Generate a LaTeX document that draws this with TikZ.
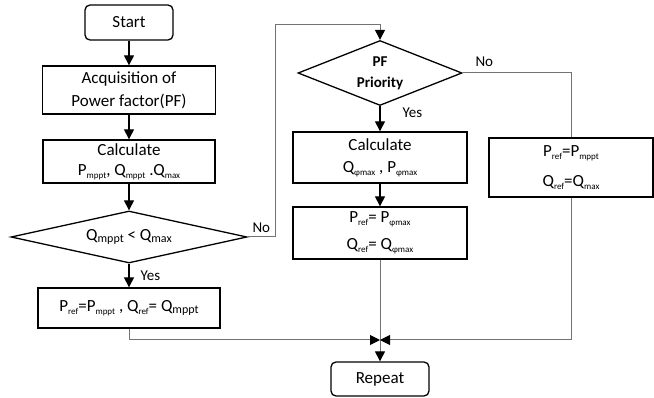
\documentclass[tikz,border=0pt]{standalone}
\usepackage{fontspec}
\setmainfont{Carlito}
\usetikzlibrary{shapes.geometric,arrows.meta}
\newcommand\lo[1]{\raisebox{-.35ex}{\fontsize{9}{9}\selectfont #1}}
\newcommand\lob[1]{\raisebox{-.3ex}{\fontsize{12}{12}\selectfont #1}}
\tikzset{
  box/.style={draw, line width=1.3pt, inner sep=2pt, align=center},
  term/.style={box, rounded corners=5pt},
  decision/.style={draw, diamond, line width=1.3pt, inner sep=0pt, align=center},
  flow/.style={line width=1.1pt, -{Triangle[length=10pt,width=10pt]}},
  link/.style={draw=black!55, line width=1pt},
  linkarr/.style={link, -{Triangle[length=10pt,width=10pt,color=black]}},
  lbl/.style={font=\fontsize{15}{15}\selectfont, inner sep=0pt}
}
\begin{document}
\begin{tikzpicture}[x=1pt, y=-1pt, font=\fontsize{17}{21}\selectfont]
            \useasboundingbox (0,0) rectangle (654,398);
            \path (275,25) coordinate (back);
            \path (380,340) coordinate (merge);

            \node[term, minimum width=88pt, minimum height=35pt] (start) at (129,22.5) {Start};
            \node[box, minimum width=173pt, minimum height=48pt] (acq) at (129,90) {Acquisition of\\[2pt]Power factor(PF)};
            \node[box, minimum width=172pt, minimum height=43pt] (calc) at (129,161.5) {Calculate\\[-1pt]P\lo{mppt}, Q\lo{mppt} .Q\lo{max}};
            \node[decision, minimum width=236pt, minimum height=52pt, shape aspect=4.5] (pfcheck) at (129,237) {Q\lob{mppt} < Q\lob{max}};
            \node[box, minimum width=182pt, minimum height=40pt] (mpptset) at (129,308) {P\lo{ref}=P\lo{mppt} , Q\lo{ref}= Q\lob{mppt}};

            \node[decision, minimum width=164pt, minimum height=65pt, shape aspect=2.5, font=\bfseries\fontsize{15}{21}\selectfont] (prio) at (380,73) {PF\\Priority};
            \node[box, minimum width=174pt, minimum height=51pt] (calcphi) at (380,157.5) {Calculate\\[1pt]Q\lo{φmax} , P\lo{φmax}};
            \node[box, minimum width=174pt, minimum height=52pt] (phiset) at (380,233) {P\lo{ref}= P\lo{φmax}\\[6pt]Q\lo{ref}= Q\lo{φmax}};
            \node[box, minimum width=164pt, minimum height=59pt] (maxset) at (571,167.5) {P\lo{ref}=P\lo{mppt}\\[9pt]Q\lo{ref}=Q\lo{max}};
            \node[term, minimum width=98pt, minimum height=34pt] (repeat) at (380,379) {Repeat};

            \draw[flow] (start) -- (acq);
            \draw[flow] (acq) -- (calc);
            \draw[flow] (calc) -- (pfcheck);
            \draw[flow] (pfcheck) -- node[lbl, anchor=west, xshift=11pt] {Yes} (mpptset);
            \draw[linkarr] (pfcheck.east) -- node[lbl, above=4pt] {No} (pfcheck.east -| back) -- (back) -| (prio.north);
            \draw[link] (prio.east) -- node[lbl, above=6pt, pos=0.2] {No} (prio.east -| maxset.north) -- (maxset.north);
            \draw[flow] (prio) -- node[lbl, anchor=west, pos=0.25, xshift=22pt] {Yes} (calcphi);
            \draw[flow] (calcphi) -- (phiset);
            \draw[link] (phiset) -- (merge);
            \draw[linkarr] (merge) -- (repeat);
            \draw[linkarr] (mpptset.south) |- (merge);
            \draw[linkarr] (maxset.south) |- (merge);
        \end{tikzpicture}
\end{document}
